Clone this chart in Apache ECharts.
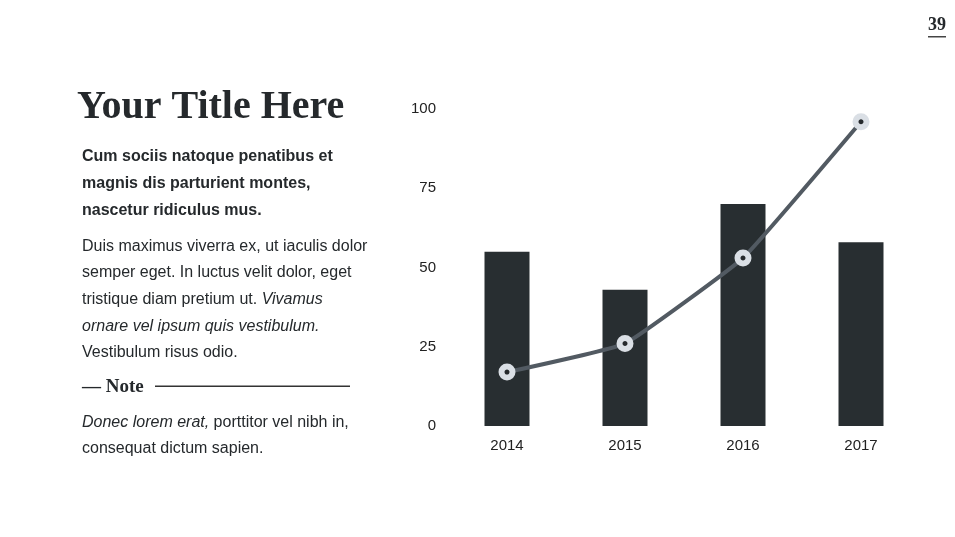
<!DOCTYPE html>
<html><head><meta charset="utf-8">
<script src="https://cdn.jsdelivr.net/npm/echarts@6/dist/echarts.min.js"></script>
<style>html,body{margin:0;padding:0;background:#fff}#c{width:955px;height:537px}</style>
</head><body><div id="c"></div>
<script>
const categories = ['2014', '2015', '2016', '2017'];
const barValues = [55, 43, 70, 58];
const lineValues = [17, 26, 53, 96];
const yTicks = [0, 25, 50, 75, 100];

const SANS = '"Liberation Sans", Arial, Helvetica, sans-serif';
const SERIF = '"Liberation Serif", "DejaVu Serif", serif';
const TXT = '#25292c';
const FS = 16;
const DY = 2;

function txt(x, y, text, font, extra) {
  return { type: 'text', x: x, y: y + DY, style: Object.assign({ text: text, fill: TXT, font: font, verticalAlign: 'middle', align: 'left' }, extra || {}) };
}
const mixRich = { rich: { n: { font: FS + 'px ' + SANS, fill: TXT }, i: { font: 'italic ' + FS + 'px ' + SANS, fill: TXT } } };

const chart = echarts.init(document.getElementById('c'), null, { renderer: 'canvas' });
const graphics = [
  txt(928, 23, '39', 'bold 18px ' + SERIF),
  { type: 'rect', shape: { x: 928, y: 36, width: 18, height: 1.5 }, style: { fill: '#444' } },
  txt(77, 106, 'Your Title Here', 'bold 40px ' + SERIF),
  txt(82, 155, 'Cum sociis natoque penatibus et', 'bold ' + FS + 'px ' + SANS),
  txt(82, 182, 'magnis dis parturient montes,', 'bold ' + FS + 'px ' + SANS),
  txt(82, 209, 'nascetur ridiculus mus.', 'bold ' + FS + 'px ' + SANS),
  txt(82, 245, 'Duis maximus viverra ex, ut iaculis dolor', FS + 'px ' + SANS),
  txt(82, 271, 'semper eget. In luctus velit dolor, eget', FS + 'px ' + SANS),
  txt(82, 298, '{n|tristique diam pretium ut. }{i|Vivamus}', FS + 'px ' + SANS, mixRich),
  txt(82, 325, 'ornare vel ipsum quis vestibulum.', 'italic ' + FS + 'px ' + SANS),
  txt(82, 351, 'Vestibulum risus odio.', FS + 'px ' + SANS),
  txt(82, 385, '— Note', 'bold 19px ' + SERIF),
  { type: 'rect', shape: { x: 155, y: 385.5, width: 195, height: 1.5 }, style: { fill: '#333' } },
  txt(82, 421, '{i|Donec lorem erat,}{n| porttitor vel nibh in,}', FS + 'px ' + SANS, mixRich),
  txt(82, 447, 'consequat dictum sapien.', FS + 'px ' + SANS)
];

chart.setOption({
  animation: false,
  backgroundColor: '#fff',
  graphic: graphics,
  grid: { left: 448, right: 35, top: 109, bottom: 111, containLabel: false },
  xAxis: {
    type: 'category', data: categories,
    axisLine: { show: false }, axisTick: { show: false },
    axisLabel: { color: '#222', fontSize: 15, fontFamily: SANS, margin: 12 }
  },
  yAxis: {
    type: 'value', min: yTicks[0], max: yTicks[yTicks.length - 1], interval: 25,
    axisLine: { show: false }, axisTick: { show: false }, splitLine: { show: false },
    axisLabel: { color: '#222', fontSize: 15, fontFamily: SANS, margin: 12, padding: [4, 0, 0, 0] }
  },
  series: [
    {
      type: 'bar', data: barValues, barWidth: 45,
      itemStyle: { color: '#282e31' }
    },
    {
      type: 'line', data: lineValues, smooth: 0.1,
      lineStyle: { color: '#525a62', width: 4 },
      symbol: 'circle', symbolSize: 11,
      itemStyle: { color: '#25292c', borderColor: '#dadfe5', borderWidth: 6 },
      z: 5
    }
  ]
});
</script></body></html>
